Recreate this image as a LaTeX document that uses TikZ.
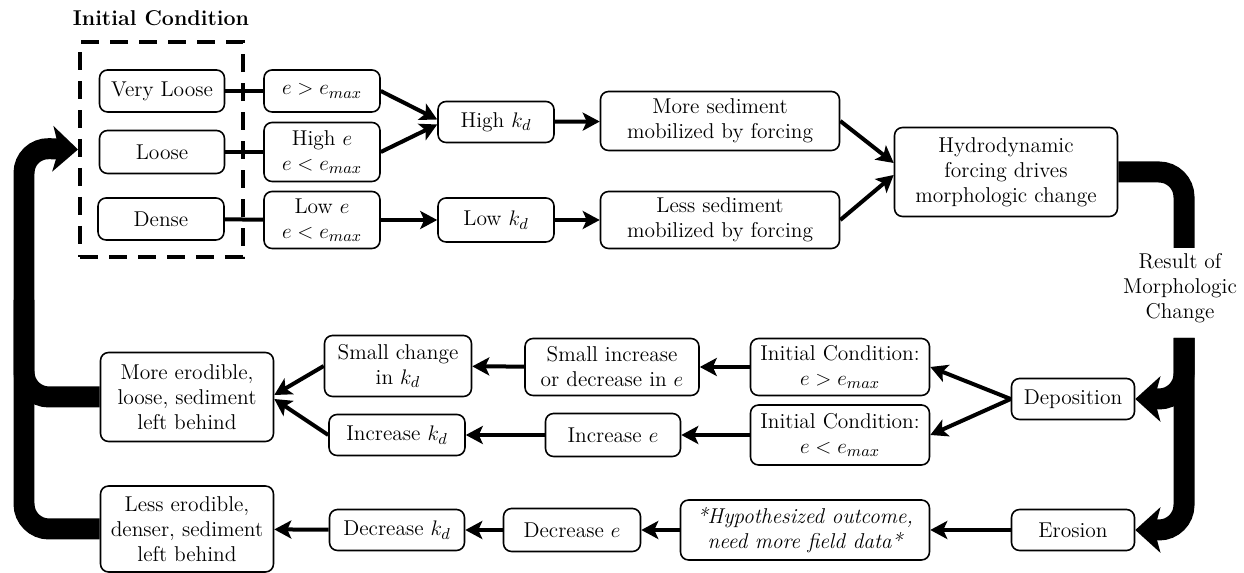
\documentclass[tikz,border=0pt]{standalone}
\usepackage{amsmath}
\usepackage{fontspec}
\usetikzlibrary{arrows.meta}

\begin{document}
\begin{tikzpicture}[x=0.02cm, y=-0.02cm]
  \tikzstyle{box} = [draw, rounded corners=0.16cm, line width=0.9pt,
  align=center, inner sep=0pt, font=\fontsize{12.2}{14.2}\selectfont]
  \tikzstyle{plain} = [line width=0.08cm]
  \tikzstyle{link} = [line width=0.08cm, -{Stealth[length=0.34cm, width=0.36cm, inset=0.08cm]}]
  \tikzstyle{band} = [line width=0.42cm, rounded corners=0.5cm]
  \tikzstyle{bandhead} = [-{Stealth[length=0.5cm, width=0.9cm, inset=0.12cm]}]

  \useasboundingbox (0,0) rectangle (1244,573);

  % Initial condition
  \node[font=\fontsize{12.2}{16}\selectfont\bfseries] (title) at (161,18) {Initial Condition};
  \node[draw, line width=0.08cm, dash pattern=on 0.36cm off 0.22cm,
  minimum width=3.26cm, minimum height=4.3cm] (init) at (161.5,149.5) {};

  \node[box, minimum width=2.5cm, minimum height=0.84cm] (vl) at (162,91) {Very Loose};
  \node[box, minimum width=2.5cm, minimum height=0.86cm] (lo) at (162,152) {Loose};
  \node[box, minimum width=2.52cm, minimum height=0.84cm] (de) at (161,219) {Dense};

  \node[box, minimum width=2.32cm, minimum height=0.84cm] (egt) at (322,91) {$e > e_{max}$};
  \node[box, minimum width=2.32cm, minimum height=1.18cm] (hie) at (322,152) {High $e$\\$e < e_{max}$};
  \node[box, minimum width=2.32cm, minimum height=1.14cm] (loe) at (322,220) {Low $e$\\$e < e_{max}$};

  \node[box, minimum width=2.32cm, minimum height=0.82cm] (hkd) at (496,122) {High $k_d$};
  \node[box, minimum width=2.32cm, minimum height=0.88cm] (lkd) at (496,220) {Low $k_d$};

  \node[box, minimum width=4.78cm, minimum height=1.18cm] (mse) at (720,121) {More sediment\\mobilized by forcing};
  \node[box, minimum width=4.78cm, minimum height=1.14cm] (lse) at (720,220) {Less sediment\\mobilized by forcing};

  \node[box, minimum width=4.46cm, minimum height=1.78cm] (hyd) at (1006,172) {Hydrodynamic\\forcing drives\\morphologic change};
  \node[align=center, inner sep=0pt, font=\fontsize{12.2}{14.2}\selectfont] (res) at (1180,288) {Result of\\Morphologic\\Change};

  % Result of morphologic change
  \node[box, minimum width=2.46cm, minimum height=0.82cm] (dep) at (1073,399) {Deposition};
  \node[box, minimum width=2.46cm, minimum height=0.82cm] (ero) at (1073,530) {Erosion};

  \node[box, minimum width=3.58cm, minimum height=1.14cm] (icg) at (840,367) {Initial Condition:\\$e > e_{max}$};
  \node[box, minimum width=3.58cm, minimum height=1.2cm] (icl) at (840,435) {Initial Condition:\\$e < e_{max}$};
  \node[box, minimum width=4.98cm, minimum height=1.2cm, font=\fontsize{12.2}{14.2}\selectfont\itshape] (hyp) at (805,530) {*Hypothesized outcome,\\need more field data*};

  \node[box, minimum width=3.48cm, minimum height=1.14cm] (sie) at (612,367) {Small increase\\or decrease in $e$};
  \node[box, minimum width=2.7cm, minimum height=0.86cm] (ince) at (613,435) {Increase $e$};
  \node[box, minimum width=2.74cm, minimum height=0.86cm] (dece) at (572,530) {Decrease $e$};

  \node[box, minimum width=2.94cm, minimum height=1.22cm] (sck) at (398,366) {Small change\\in $k_d$};
  \node[box, minimum width=2.72cm, minimum height=0.82cm] (inck) at (397,435) {Increase $k_d$};
  \node[box, minimum width=2.7cm, minimum height=0.82cm] (deck) at (397,530) {Decrease $k_d$};

  \node[box, minimum width=3.46cm, minimum height=1.78cm] (mer) at (187,397) {More erodible,\\loose, sediment\\left behind};
  \node[box, minimum width=3.46cm, minimum height=1.72cm] (ler) at (187,529) {Less erodible,\\denser, sediment\\left behind};

  \coordinate (rtop) at (1184,248);
  \coordinate (rbot) at (1184,338);
  \coordinate (lcor) at (24,148);
  \coordinate (lmid) at (24,300);

  % Connectors
  \draw[plain] (vl) -- (egt);
  \draw[plain] (lo) -- (hie);
  \draw[plain] (de) -- (loe);
  \draw[link] (egt.east) -- ([yshift=0.05cm]hkd.west);
  \draw[link] (hie.east) -- ([yshift=-0.05cm]hkd.west);
  \draw[link] (loe) -- (lkd);
  \draw[link] (hkd) -- (mse);
  \draw[link] (lkd) -- (lse);
  \draw[link] (mse.east) -- ([yshift=0.18cm]hyd.west);
  \draw[link] (lse.east) -- ([yshift=-0.06cm]hyd.west);

  \draw[link] (dep.west) -- (icg.east);
  \draw[link] (dep.west) -- (icl.east);
  \draw[link] (icg) -- (sie);
  \draw[link] (sie) -- (sck);
  \draw[link] (icl) -- (ince);
  \draw[link] (ince) -- (inck);
  \draw[link] (sck.west) -- ([yshift=0.04cm]mer.east);
  \draw[link] (inck.west) -- ([yshift=-0.04cm]mer.east);
  \draw[link] (ero) -- (hyp);
  \draw[link] (hyp) -- (dece);
  \draw[link] (dece) -- (deck);
  \draw[link] (deck) -- (ler);

  % Thick loop
  \draw[band] (hyd.east) -| (rtop);
  \draw[band, bandhead] (rbot) |- (dep.east);
  \draw[band, bandhead] (rbot) |- (ero.east);
  \draw[band, bandhead] (ler.west) -| (lcor) -- (init.west);
  \draw[band] (mer.west) -| (lmid);
\end{tikzpicture}
\end{document}
